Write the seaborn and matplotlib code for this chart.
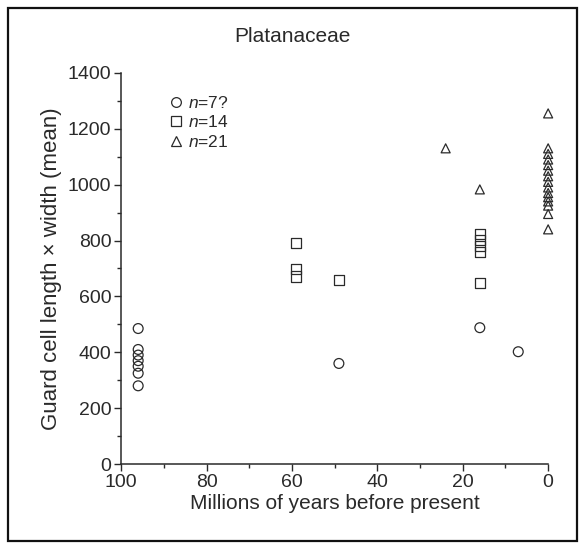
import matplotlib
matplotlib.use("Agg")
import matplotlib.pyplot as plt
from matplotlib.lines import Line2D
from matplotlib.patches import Rectangle
from matplotlib.ticker import MultipleLocator
import pandas as pd
import seaborn as sns

# Guard cell size (length x width, mean) through time, Platanaceae
groups = ["n=7?", "n=14", "n=21"]
legend_labels = [r"$n$=7?", r"$n$=14", r"$n$=21"]

age_n7 = [96, 96, 96, 96, 96, 96, 96, 49, 16, 7]
size_n7 = [485, 410, 390, 370, 350, 325, 280, 360, 488, 402]

age_n14 = [59, 59, 59, 49, 16, 16, 16, 16, 16]
size_n14 = [790, 697, 671, 659, 824, 803, 781, 760, 648]

age_n21 = [24, 16, 0, 0, 0, 0, 0, 0, 0, 0, 0, 0, 0, 0, 0, 0, 0]
size_n21 = [1130, 983, 1255, 1130, 1110, 1090, 1070, 1050, 1030, 1010,
            990, 970, 955, 940, 925, 895, 840]

x_ticks = [100, 80, 60, 40, 20, 0]
y_ticks = [0, 200, 400, 600, 800, 1000, 1200, 1400]

df = pd.concat([
    pd.DataFrame({"age": age_n7, "size": size_n7, "group": groups[0]}),
    pd.DataFrame({"age": age_n14, "size": size_n14, "group": groups[1]}),
    pd.DataFrame({"age": age_n21, "size": size_n21, "group": groups[2]}),
], ignore_index=True)

sns.set_style("ticks")
plt.rcParams["font.family"] = ["Liberation Sans", "DejaVu Sans"]
plt.rcParams["mathtext.fontset"] = "custom"
plt.rcParams["mathtext.it"] = "Liberation Sans:italic"
plt.rcParams["mathtext.rm"] = "Liberation Sans"

ink = "#2a2a2a"
markers = {"n=7?": "o", "n=14": "s", "n=21": "^"}
sizes = {"n=7?": 50, "n=14": 55, "n=21": 42}

fig = plt.figure(figsize=(5.85, 5.44), dpi=100)
ax = fig.add_axes([0.207, 0.147, 0.730, 0.719])

for g in groups:
    sub = df[df["group"] == g]
    sns.scatterplot(data=sub, x="age", y="size", marker=markers[g],
                    s=sizes[g], facecolor="none", edgecolor=ink,
                    linewidth=0.9, ax=ax, clip_on=False, legend=False)

ax.set_xlim(100, 0)
ax.set_ylim(0, 1400)
ax.set_xticks(x_ticks)
ax.set_yticks(y_ticks)
ax.xaxis.set_minor_locator(MultipleLocator(10))
ax.yaxis.set_minor_locator(MultipleLocator(100))
ax.tick_params(axis="both", which="major", direction="out", length=5,
               width=1, colors=ink, labelsize=14, pad=2)
ax.tick_params(axis="both", which="minor", direction="out", length=3,
               width=1, colors=ink)
sns.despine(ax=ax)
for side in ("left", "bottom"):
    ax.spines[side].set_color(ink)
    ax.spines[side].set_linewidth(1.1)

ax.set_xlabel("Millions of years before present", fontsize=15, color=ink,
              labelpad=2)
ax.set_ylabel("Guard cell length \u00d7 width (mean)", fontsize=16,
              color=ink, labelpad=4)

fig.text(0.5, 0.932, "Platanaceae", ha="center", va="center",
         fontsize=15, color=ink)

handles = [Line2D([], [], linestyle="none", marker=markers[g],
                  markersize=7, markerfacecolor="none",
                  markeredgecolor=ink, markeredgewidth=0.9)
           for g in groups]
ax.legend(handles, legend_labels, loc="upper left",
          bbox_to_anchor=(0.1, 0.962), frameon=False, fontsize=12.5,
          handlelength=0.6, handletextpad=0.4, labelspacing=0.2,
          labelcolor=ink, borderaxespad=0)

fig.patches.append(Rectangle((0.014, 0.006), 0.972, 0.979,
                             transform=fig.transFigure, fill=False,
                             edgecolor="#111111", linewidth=1.6))

fig.savefig("out.png", dpi=100, facecolor="white")
